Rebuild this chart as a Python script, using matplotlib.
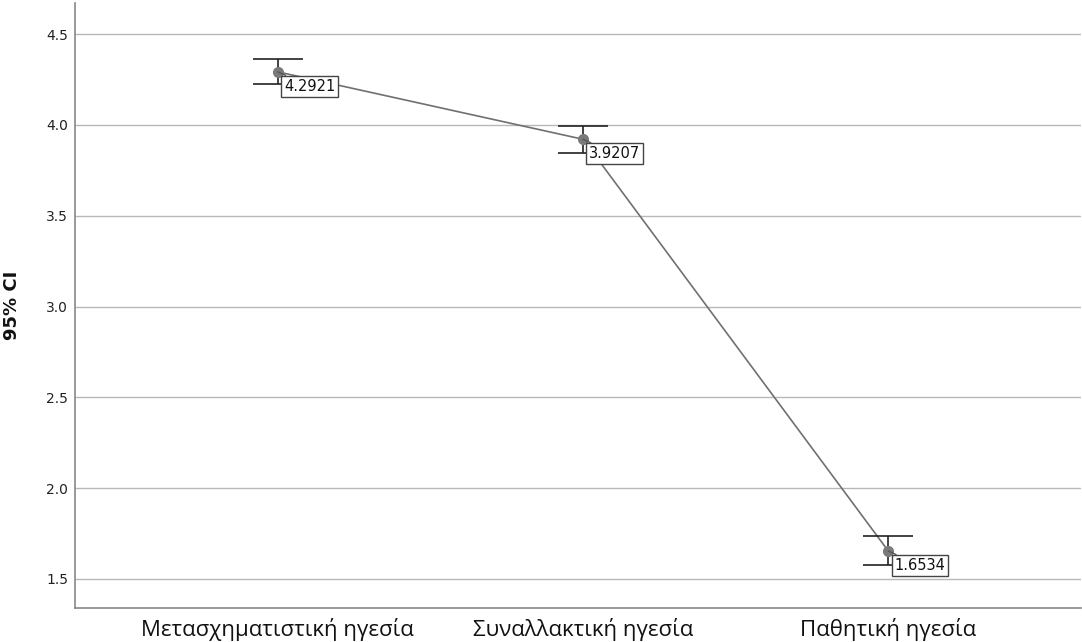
import matplotlib
matplotlib.use("Agg")
import matplotlib.pyplot as plt

categories = ["Μετασχηματιστική ηγεσία", "Συναλλακτική ηγεσία", "Παθητική ηγεσία"]
means = [4.2921, 3.9207, 1.6534]
ci_upper = [4.363, 3.995, 1.736]
ci_lower = [4.225, 3.846, 1.577]
yticks = [1.5, 2.0, 2.5, 3.0, 3.5, 4.0, 4.5]

plt.rcParams['font.family'] = ['DejaVu Sans']

fig = plt.figure(figsize=(10.82, 6.42), dpi=100)
ax = fig.add_axes([0.0693, 0.053, 0.93, 0.942])

x = list(range(len(categories)))
ax.plot(x, means, color='#707070', lw=1.2, zorder=3)
ax.plot(x, means, 'o', color='#7a7a7a', ms=7, zorder=4)

for xi, lo, hi in zip(x, ci_lower, ci_upper):
    ax.vlines(xi, lo, hi, color='#222222', lw=1.2, zorder=3)
    ax.hlines([lo, hi], xi - 0.082, xi + 0.082, color='#222222', lw=1.2, zorder=3)

for xi, m in zip(x, means):
    ax.annotate(f"{m:.4f}", xy=(xi, m), xytext=(4.5, -5), textcoords='offset points',
                ha='left', va='top', fontsize=10.5, color='#111111',
                bbox=dict(boxstyle='square,pad=0.2', fc='white', ec='#444444', lw=1),
                arrowprops=dict(arrowstyle='-', color='#555555', lw=1,
                                shrinkA=0, shrinkB=0),
                zorder=5)

ax.set_xlim(-0.6645, 2.632)
ax.set_ylim(1.34, 4.67)
ax.set_xticks(x)
ax.set_xticklabels(categories, fontsize=16, color='#111111', family=['Open Sans', 'DejaVu Sans'])
ax.set_yticks(yticks)
ax.set_yticklabels([f"{t:.1f}" for t in yticks], fontsize=10, color='#222222')
ax.tick_params(axis='x', length=0, pad=7)
ax.tick_params(axis='y', length=0, pad=5)
ax.yaxis.grid(True, color='#b8b8b8', lw=1)
ax.set_axisbelow(True)
ax.set_ylabel("95% CI", fontsize=13, fontweight='bold', labelpad=18, color='#111111')

for s in ['top', 'right']:
    ax.spines[s].set_visible(False)
for s in ['left', 'bottom']:
    ax.spines[s].set_color('#888888')
    ax.spines[s].set_linewidth(1.2)

fig.savefig("out.png", dpi=100)
